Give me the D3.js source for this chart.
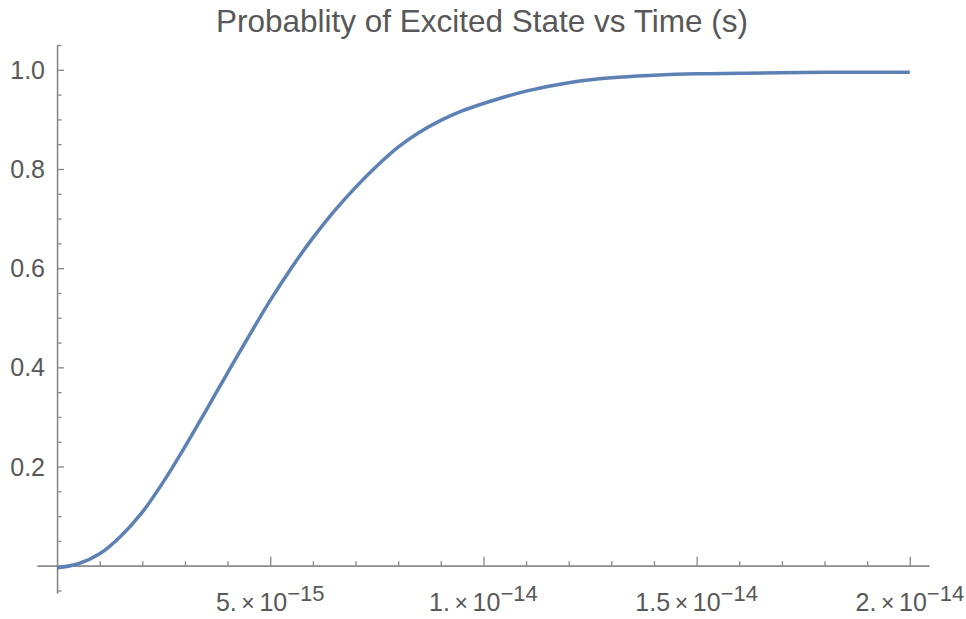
<!DOCTYPE html>
<html>
<head>
<meta charset="utf-8">
<script src="https://cdn.jsdelivr.net/npm/d3@7"></script>
<style>
  html, body { margin: 0; padding: 0; background: #fff; }
  svg { display: block; }
  text { font-family: "Liberation Sans", Arial, Helvetica, sans-serif; }
</style>
</head>
<body>
<svg id="chart" width="966" height="619"></svg>
<script>
// ---- data (time in units of 1e-15 s) ----
const timeFs = [0, 0.5, 1, 1.5, 2, 2.5, 3, 3.5, 4, 4.5, 5, 5.5, 6, 6.5, 7, 7.5, 8, 8.5, 9, 9.5, 10, 11, 12, 13, 14, 15, 16, 17, 18, 19, 20];
const probability = [-0.004, 0.004, 0.024, 0.06, 0.108, 0.170, 0.240, 0.314, 0.389, 0.463, 0.535, 0.601, 0.661, 0.715, 0.763, 0.806, 0.844, 0.874, 0.898, 0.917, 0.932, 0.957, 0.974, 0.984, 0.989, 0.992, 0.993, 0.994, 0.995, 0.995, 0.995];

const xMajorTicks = [5, 10, 15, 20];
const xTickMantissa = ["5.", "1.", "1.5", "2."];
const xTickExponent = ["\u221215", "\u221214", "\u221214", "\u221214"];
const xMinorTicks = [1, 2, 3, 4, 6, 7, 8, 9, 11, 12, 13, 14, 16, 17, 18, 19];
const yMajorTicks = [0.2, 0.4, 0.6, 0.8, 1.0];
const yTickLabels = ["0.2", "0.4", "0.6", "0.8", "1.0"];
const yMinorTicks = [-0.05, 0.05, 0.1, 0.15, 0.25, 0.3, 0.35, 0.45, 0.5, 0.55, 0.65, 0.7, 0.75, 0.85, 0.9, 0.95, 1.05];
const title = "Probablity of Excited State vs Time (s)";

// ---- layout ----
const svg = d3.select("#chart");
const axisColor = "#878787";
const labelColor = "#585858";
const lineColor = "#5e81b5";

const x = d3.scaleLinear().domain([-0.47, 20.45]).range([37, 929]);
const y = d3.scaleLinear().domain([-0.055, 1.05]).range([593, 45]);

// title
svg.append("text")
  .attr("x", 482).attr("y", 32)
  .attr("text-anchor", "middle")
  .attr("font-size", 31.5)
  .attr("fill", labelColor)
  .text(title);

function styleAxis(g) {
  g.select(".domain").attr("stroke", axisColor).attr("stroke-width", 1.3);
  g.selectAll(".tick line").attr("stroke", axisColor).attr("stroke-width", 1.3);
  g.selectAll(".tick text").remove();
}

// x axis (ticks point up into plot)
const gx = svg.append("g").attr("transform", `translate(0,${y(0)})`);
gx.call(d3.axisBottom(x).tickValues(xMajorTicks).tickSizeInner(-9).tickSizeOuter(0).tickFormat(""))
  .call(styleAxis);
const gxm = svg.append("g").attr("transform", `translate(0,${y(0)})`);
gxm.call(d3.axisBottom(x).tickValues(xMinorTicks).tickSizeInner(-4.5).tickSizeOuter(0).tickFormat(""))
  .call(styleAxis);

// y axis (ticks point right into plot)
const gy = svg.append("g").attr("transform", `translate(${x(0)},0)`);
gy.call(d3.axisLeft(y).tickValues(yMajorTicks).tickSizeInner(-7).tickSizeOuter(0).tickFormat(""))
  .call(styleAxis);
const gym = svg.append("g").attr("transform", `translate(${x(0)},0)`);
gym.call(d3.axisLeft(y).tickValues(yMinorTicks).tickSizeInner(-4.5).tickSizeOuter(0).tickFormat(""))
  .call(styleAxis);

// y tick labels
svg.append("g").selectAll("text")
  .data(yMajorTicks)
  .join("text")
  .attr("x", 45)
  .attr("y", d => y(d))
  .attr("dy", "0.36em")
  .attr("text-anchor", "end")
  .attr("font-size", 25)
  .attr("fill", labelColor)
  .text((d, i) => yTickLabels[i]);

// x tick labels with superscript exponents
const xl = svg.append("g").selectAll("text")
  .data(xMajorTicks)
  .join("text")
  .attr("x", d => x(d))
  .attr("y", 611)
  .attr("text-anchor", "middle")
  .attr("font-size", 25)
  .attr("fill", labelColor);
xl.append("tspan").text((d, i) => xTickMantissa[i]);
xl.append("tspan").attr("font-size", 23).text("\u2009\u00d7\u2009");
xl.append("tspan").text("10");
xl.append("tspan").attr("font-size", 22).attr("dy", -10).text((d, i) => xTickExponent[i]);

// curve
const line = d3.line()
  .x((d, i) => x(timeFs[i]))
  .y((d, i) => y(probability[i]))
  .curve(d3.curveCatmullRom.alpha(0.5));

svg.append("path")
  .datum(probability)
  .attr("d", line)
  .attr("fill", "none")
  .attr("stroke", lineColor)
  .attr("stroke-width", 3.5)
  .attr("stroke-linejoin", "round");
</script>
</body>
</html>
